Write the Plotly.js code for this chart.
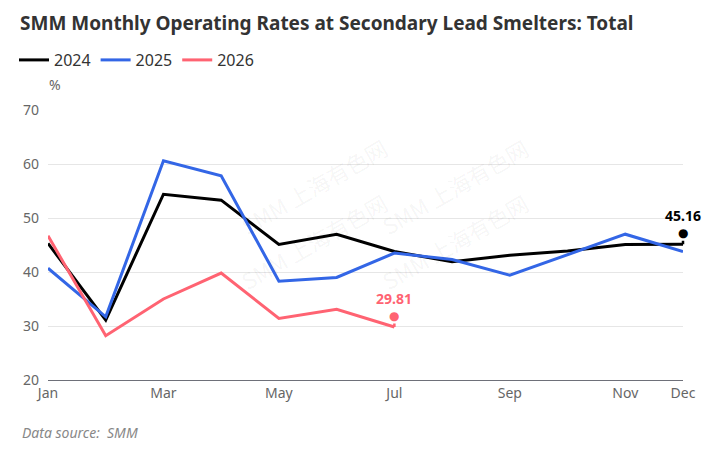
<!DOCTYPE html>
<html>
<head>
<meta charset="utf-8">
<script src="https://cdn.plot.ly/plotly-3.0.1.min.js"></script>
<style>
  html, body { margin: 0; padding: 0; background: #fff; }
  #chart { width: 727px; height: 460px; }
</style>
</head>
<body>
<div id="chart"></div>
<script>
const months = ['Jan', 'Feb', 'Mar', 'Apr', 'May', 'Jun', 'Jul', 'Aug', 'Sep', 'Oct', 'Nov', 'Dec'];
const tickMonths = ['Jan', 'Mar', 'May', 'Jul', 'Sep', 'Nov', 'Dec'];
const rates2024 = [45.3, 31.1, 54.4, 53.3, 45.1, 47.0, 43.8, 41.9, 43.1, 43.9, 45.1, 45.16];
const rates2025 = [40.7, 31.7, 60.6, 57.8, 38.3, 39.0, 43.5, 42.3, 39.4, 43.2, 47.0, 43.8];
const rates2026 = [46.7, 28.2, 35.0, 39.8, 31.4, 33.1, 29.81];

const colors = { '2024': '#000000', '2025': '#3366E6', '2026': '#FF6372' };

function makeTrace(name, values) {
  return {
    x: months.slice(0, values.length),
    y: values,
    name: name,
    type: 'scatter',
    mode: 'lines',
    line: { color: colors[name], width: 3 },
    hoverinfo: 'x+y+name'
  };
}

// pin + label at the last point of a series
function pin(name, values) {
  const i = values.length - 1;
  return [
    {
      x: months[i], y: values[i], xref: 'x', yref: 'y',
      text: '●', showarrow: true, arrowhead: 0, arrowwidth: 2.5,
      arrowcolor: colors[name], ax: 0, ay: -11, standoff: 0, startstandoff: 0,
      borderpad: 0,
      font: { family: 'DejaVu Sans, sans-serif', size: 12, color: colors[name] }
    },
    {
      x: months[i], y: values[i], xref: 'x', yref: 'y',
      text: '<b>' + values[i].toFixed(2) + '</b>', showarrow: false,
      yshift: 29, borderpad: 0,
      font: { family: 'Noto Sans, sans-serif', size: 14, color: colors[name] }
    }
  ];
}

const data = [
  makeTrace('2024', rates2024),
  makeTrace('2025', rates2025),
  makeTrace('2026', rates2026)
];

const watermark = (x, y) => ({
  xref: 'paper', yref: 'paper', x: x, y: y, showarrow: false,
  text: 'SMM 上海有色网', textangle: -30,
  font: { family: 'Noto Sans CJK SC, sans-serif', size: 22, color: 'rgba(0,0,0,0.05)' }
});

const layout = {
  width: 727,
  height: 460,
  margin: { l: 48, r: 44, t: 110, b: 80 },
  paper_bgcolor: '#fff',
  plot_bgcolor: '#fff',
  font: { family: 'Noto Sans, sans-serif', color: '#666' },
  title: {
    text: '<b>SMM Monthly Operating Rates at Secondary Lead Smelters: Total</b>',
    xref: 'container', yref: 'container', x: 20 / 727, xanchor: 'left',
    y: 1 - 23 / 460, yanchor: 'middle',
    font: { family: 'Noto Sans, sans-serif', size: 19, color: '#333' }
  },
  showlegend: true,
  legend: {
    orientation: 'h',
    xref: 'container', yref: 'container',
    x: 14 / 727, xanchor: 'left', y: 1 - 60 / 460, yanchor: 'middle',
    font: { size: 16, color: '#333' },
    itemwidth: 30, tracegroupgap: 0
  },
  xaxis: {
    type: 'category',
    categoryorder: 'array', categoryarray: months,
    tickvals: tickMonths, ticktext: tickMonths,
    range: [0, 11],
    showgrid: false, zeroline: false,
    showline: true, linecolor: '#6e7079', linewidth: 1,
    ticks: '', tickfont: { size: 14, color: '#666' }
  },
  yaxis: {
    range: [20, 70], dtick: 10,
    showgrid: true, gridcolor: '#e6e6e6', gridwidth: 1,
    zeroline: false, showline: false, ticks: '',
    tickfont: { size: 14, color: '#666' }, ticklabelstandoff: 8
  },
  annotations: [
    {
      xref: 'paper', yref: 'paper', x: -0.002, y: 1.05, xanchor: 'left', yanchor: 'bottom',
      text: '%', showarrow: false, font: { size: 14, color: '#666' }
    },
    {
      xref: 'paper', yref: 'paper', x: (20 - 48) / 635, y: (380 - 432) / 270,
      xanchor: 'left', yanchor: 'middle', showarrow: false,
      text: '<i>Data source:  SMM</i>', font: { size: 14, color: '#888' }
    },
    watermark(0.29, 0.93), watermark(0.77, 0.93),
    watermark(0.29, 0.30), watermark(0.77, 0.30)
  ].concat(pin('2024', rates2024), pin('2026', rates2026))
};

Plotly.newPlot('chart', data, layout, { displayModeBar: false, staticPlot: true });
</script>
</body>
</html>
